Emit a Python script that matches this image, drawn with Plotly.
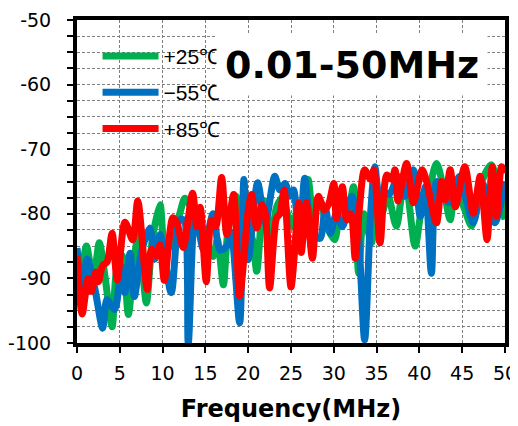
import plotly.graph_objects as go

# ---- data (MHz, dB) ----
green_x = [0.0, 0.4, 1.1, 1.9, 2.6, 3.3, 4.1, 4.6, 5.3, 6.0, 6.6, 7.2, 8.1, 8.8, 9.7, 10.3, 11.0, 11.5,
           12.0, 12.6, 13.3, 14.0, 14.8, 15.9, 16.4, 17.1, 17.6, 18.6, 19.2, 20.0, 20.5, 21.0, 21.6, 22.0,
           22.6, 23.3, 24.0, 24.6, 25.2, 25.8, 26.3, 27.0, 27.6, 28.4, 29.2, 30.1, 30.8, 31.5, 32.3, 32.9,
           33.5, 34.4, 35.0, 35.6, 36.3, 37.3, 38.3, 39.5, 40.3, 41.0, 42.0, 42.8, 43.6, 44.2, 45.2, 46.1,
           47.0, 48.4, 49.2, 50.0]
green_y = [-85.8, -90.0, -85.0, -90.2, -84.5, -90.0, -97.5, -89.0, -86.5, -95.6, -88.0, -83.0, -93.8, -84.0,
           -78.6, -85.0, -85.0, -82.0, -80.0, -77.6, -79.0, -81.0, -84.0, -86.6, -84.0, -91.0, -83.0, -77.3,
           -82.0, -82.5, -84.0, -88.9, -80.0, -78.0, -85.0, -79.0, -77.5, -80.0, -82.0, -79.0, -81.0, -74.7,
           -80.0, -78.0, -82.0, -84.0, -79.0, -81.0, -75.8, -89.2, -80.0, -84.5, -78.0, -80.0, -77.0, -81.9,
           -74.2, -85.0, -79.0, -77.0, -72.2, -76.0, -80.9, -75.8, -79.0, -81.9, -76.0, -72.4, -76.0, -80.9]

blue_x = [0.0, 0.6, 1.2, 2.1, 3.0, 3.5, 4.4, 5.2, 5.6, 6.2, 6.7, 7.5, 8.5, 9.1, 9.7, 11.0, 12.0, 12.5,
          13.0, 13.8, 14.8, 15.9, 16.7, 17.5, 18.0, 19.0, 19.5, 20.0, 21.1, 22.0, 23.1, 23.7, 24.3, 24.9,
          25.3, 26.0, 26.6, 27.5, 28.4, 29.0, 29.6, 30.3, 31.0, 32.1, 32.8, 33.6, 34.3, 34.8, 35.3, 35.8,
          36.5, 37.5, 38.3, 39.3, 40.1, 40.7, 41.4, 42.0, 42.6, 43.4, 44.7, 45.5, 46.3, 47.4, 48.8, 50.0]
blue_y = [-85.3, -91.5, -87.0, -91.7, -97.7, -93.3, -94.8, -88.1, -92.2, -86.1, -92.8, -86.0, -82.2, -87.0,
          -83.2, -92.2, -80.9, -81.0, -100.0, -80.0, -85.6, -80.0, -85.6, -85.0, -82.9, -96.9, -74.7, -87.1,
          -75.2, -81.4, -74.2, -76.3, -75.3, -77.3, -76.3, -85.0, -74.5, -83.0, -83.8, -79.0, -83.0, -80.0,
          -82.0, -77.3, -82.0, -99.5, -80.0, -72.7, -77.0, -76.5, -77.0, -74.2, -77.3, -73.2, -80.4, -75.8,
          -89.2, -75.0, -76.0, -78.3, -74.2, -78.0, -81.4, -75.3, -81.4, -75.0]

red_x = [0.0, 0.6, 1.3, 1.7, 2.2, 2.5, 3.0, 3.5, 4.1, 4.7, 5.6, 6.5, 7.1, 8.2, 8.7, 9.3, 9.7, 10.2, 11.2,
         11.7, 12.4, 13.5, 14.0, 14.4, 15.1, 15.7, 16.2, 16.9, 17.5, 18.3, 19.0, 20.0, 20.4, 21.0, 21.6,
         22.0, 22.5, 23.3, 23.7, 24.2, 25.0, 25.9, 26.2, 26.8, 27.5, 28.2, 28.9, 29.4, 30.0, 30.3, 31.0,
         31.5, 32.0, 32.5, 33.0, 33.6, 34.3, 34.7, 35.4, 36.2, 36.8, 37.15, 37.5, 38.5, 39.3, 40.3, 40.8,
         42.0, 42.6, 43.0, 43.6, 44.2, 45.3, 46.3, 47.1, 47.9, 48.5, 49.0, 49.6, 50.0]
red_y = [-86.5, -95.5, -90.0, -92.0, -89.0, -90.5, -88.0, -87.5, -83.0, -90.2, -81.3, -84.0, -78.0, -91.7,
         -85.5, -86.5, -84.8, -90.3, -80.6, -81.5, -85.2, -76.8, -82.0, -79.0, -90.5, -81.0, -82.0, -74.4,
         -83.2, -77.0, -92.7, -79.5, -77.0, -82.2, -78.6, -80.0, -91.5, -80.7, -80.0, -76.3, -91.3, -78.3,
         -86.0, -78.3, -86.9, -77.3, -79.4, -78.5, -75.3, -80.7, -75.8, -80.9, -80.0, -86.9, -79.0, -73.2,
         -74.7, -73.2, -84.5, -74.0, -74.7, -73.2, -78.0, -72.2, -78.3, -73.2, -74.8, -81.4, -75.0, -77.8,
         -73.2, -78.9, -72.7, -79.9, -74.2, -84.0, -72.7, -80.4, -72.7, -73.7]

names = ["+25℃", "−55℃", "+85℃"]
colors = ["#00B050", "#0070C0", "#FF0000"]

y_label_vals = [-100, -90, -80, -70, -60, -50]
y_label_text = ["-100", "-90", "-80", "-70", "-60", "-50"]
x_tick_vals = [0, 5, 10, 15, 20, 25, 30, 35, 40, 45, 50]

fig = go.Figure()
for i, (xs, ys) in enumerate([(green_x, green_y), (blue_x, blue_y), (red_x, red_y)]):
    fig.add_trace(go.Scatter(
        x=xs, y=ys, mode="lines", name=names[i], legendgroup=str(i),
        line=dict(color=colors[i], width=7, shape="spline", smoothing=0.8),
    ))

grid_color = "#7f7f7f"
# the page puts the figure 8px from the top-left corner, so the figure is 8px smaller
fig.update_layout(
    width=510, height=418,
    margin=dict(l=69, r=13, t=12, b=83),
    paper_bgcolor="white", plot_bgcolor="white",
    font=dict(family="DejaVu Sans", color="black"),
    showlegend=True,
    legend=dict(
        x=0.048, y=0.951, xanchor="left", yanchor="top",
        bgcolor="rgba(0,0,0,0)", font=dict(family="Liberation Sans", size=21),
        itemwidth=56, tracegroupgap=6,
    ),
    xaxis=dict(
        range=[0, 50], tickvals=x_tick_vals, ticks="outside", ticklen=6, tickwidth=2,
        tickcolor="black", showline=True, linecolor="black", linewidth=4, mirror=True,
        showgrid=True, gridcolor=grid_color, griddash="3px,2px", gridwidth=1,
        zeroline=False, tickfont=dict(size=19), ticklabelstandoff=4, automargin=False,
        title=dict(text="<b>Frequency(MHz)</b>", font=dict(size=24), standoff=18),
    ),
    yaxis=dict(
        range=[-100, -50], tickvals=y_label_vals, ticktext=y_label_text, ticks="outside",
        ticklen=6, tickwidth=2, automargin=False,
        tickcolor="black", showline=True, linecolor="black", linewidth=4, mirror=True,
        showgrid=True, gridcolor=grid_color, griddash="3px,2px", gridwidth=1,
        zeroline=False, tickfont=dict(size=19), ticklabelstandoff=12,
        minor=dict(dtick=2.5, ticks="outside", ticklen=6, tickwidth=1.5, tickcolor="black",
                   showgrid=True, gridcolor=grid_color, griddash="3px,2px", gridwidth=1),
    ),
    annotations=[dict(
        text="<b>0.01-50MHz</b>", xref="paper", yref="paper", x=0.643, y=0.861,
        xanchor="center", yanchor="middle", showarrow=False,
        font=dict(family="DejaVu Sans", size=38, color="black"),
        bgcolor="white", borderpad=8,
    )],
)

fig.write_html("out.html")
